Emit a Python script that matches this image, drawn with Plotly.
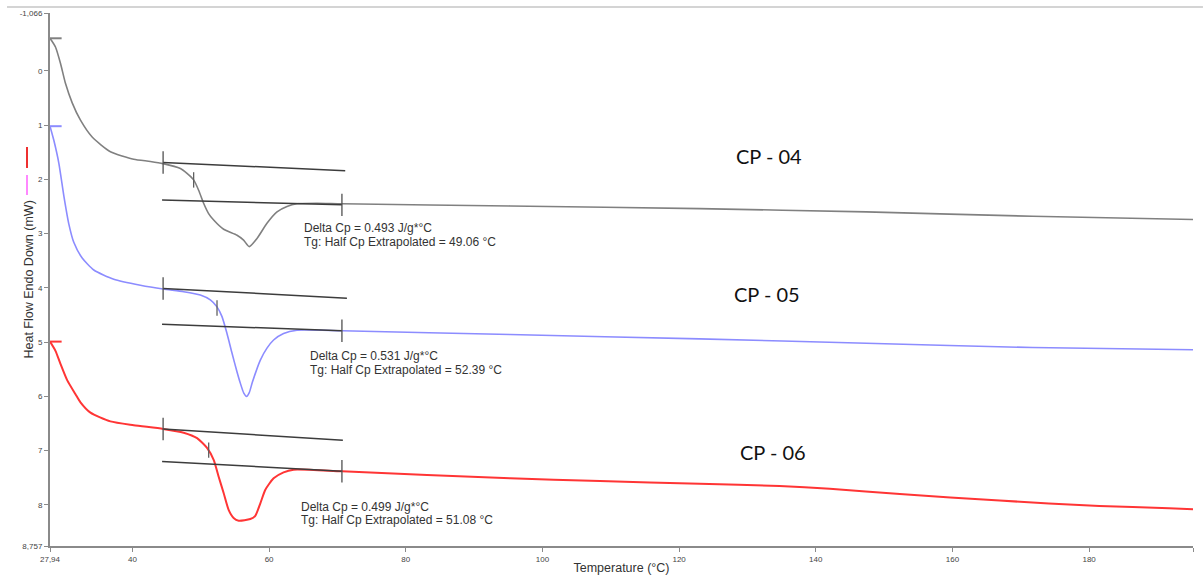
import plotly.graph_objects as go

# ---------------- data ----------------
temp_cp04 = [27.94, 28.74, 29.47, 30.2, 31.19, 32.4, 34.11, 36.78, 40.19, 42.63, 44.49, 47.02, 47.99,
             48.96, 49.69, 50.42, 51.15, 51.89, 53.35, 55.31, 56.27, 57.1, 58.23, 59.69, 61.16, 62.62,
             64.08, 67.0, 70.66, 95.27, 123.0, 147.4, 171.7, 195.2]
hf_cp04 = [-0.60, -0.44, -0.14, 0.23, 0.59, 0.91, 1.22, 1.49, 1.63, 1.67, 1.71, 1.80, 1.89,
           2.01, 2.20, 2.44, 2.63, 2.75, 2.92, 3.03, 3.12, 3.24, 3.09, 2.81, 2.60, 2.50,
           2.45, 2.44, 2.45, 2.49, 2.54, 2.60, 2.68, 2.74]

temp_cp05 = [27.94, 28.5, 29.23, 29.96, 30.69, 31.42, 32.65, 34.35, 37.27, 41.17, 44.49, 47.5,
             49.94, 51.4, 52.38, 53.11, 53.84, 54.57, 55.31, 55.8, 56.3, 56.7, 57.1, 57.55, 58.72, 59.69,
             60.66, 62.12, 64.08, 70.66, 95.27, 123.0, 147.4, 171.7, 195.2]
hf_cp05 = [1.02, 1.28, 1.70, 2.30, 2.82, 3.16, 3.45, 3.67, 3.84, 3.95, 4.02, 4.07,
           4.13, 4.22, 4.35, 4.53, 4.84, 5.20, 5.55, 5.76, 5.94, 6.00, 5.93, 5.74, 5.33, 5.11,
           4.96, 4.84, 4.78, 4.79, 4.86, 4.94, 5.02, 5.10, 5.14]

temp_cp06 = [27.94, 28.74, 29.47, 30.45, 31.67, 32.4, 33.86, 36.78, 40.19, 44.49, 47.5, 49.46, 50.92,
             51.89, 52.62, 53.35, 54.08, 54.81, 55.55, 57.25, 57.98, 58.72, 59.45, 60.66, 62.12,
             63.58, 70.66, 95.27, 108.4, 123.0, 134.7, 142.05, 152.3, 166.9, 181.5, 191.7, 195.2]
hf_cp06 = [4.99, 5.16, 5.40, 5.70, 5.96, 6.11, 6.30, 6.46, 6.53, 6.60, 6.67, 6.77, 6.95,
           7.17, 7.48, 7.78, 8.09, 8.24, 8.29, 8.26, 8.20, 7.97, 7.72, 7.51, 7.40,
           7.35, 7.38, 7.51, 7.56, 7.61, 7.65, 7.70, 7.80, 7.92, 8.02, 8.06, 8.08]

# tangent (baseline) lines: [x_start, x_end], [y_start, y_end]
upper_x = {"CP-04": [44.49, 71.14], "CP-05": [44.49, 71.39], "CP-06": [44.49, 70.8]}
upper_y = {"CP-04": [1.69, 1.84], "CP-05": [4.01, 4.19], "CP-06": [6.60, 6.81]}
lower_x = {"CP-04": [44.34, 70.66], "CP-05": [44.34, 70.66], "CP-06": [44.34, 70.66]}
lower_y = {"CP-04": [2.38, 2.47], "CP-05": [4.67, 4.79], "CP-06": [7.20, 7.38]}
onset_x = {"CP-04": 48.96, "CP-05": 52.38, "CP-06": 51.16}
onset_y = {"CP-04": 2.01, "CP-05": 4.37, "CP-06": 6.99}

delta_cp = {"CP-04": "0.493", "CP-05": "0.531", "CP-06": "0.499"}
tg_vals = {"CP-04": "49.06", "CP-05": "52.39", "CP-06": "51.08"}
text_x = {"CP-04": 64.85, "CP-05": 65.74, "CP-06": 64.31}
text_y1 = {"CP-04": 2.90, "CP-05": 5.25, "CP-06": 8.04}
text_y2 = {"CP-04": 3.15, "CP-05": 5.51, "CP-06": 8.28}
label_x = {"CP-04": 133.1, "CP-05": 132.9, "CP-06": 133.8}
label_y = {"CP-04": 1.57, "CP-05": 4.12, "CP-06": 7.02}

x_tickvals = [27.94, 40, 60, 80, 100, 120, 140, 160, 180, 195.2]
x_ticktext = ["27,94", "40", "60", "80", "100", "120", "140", "160", "180", "195,2"]
y_tickvals = [-1.066, 0, 1, 2, 3, 4, 5, 6, 7, 8, 8.757]
y_ticktext = ["-1,066", "0", "1", "2", "3", "4", "5", "6", "7", "8", "8,757"]

series = [
    ("CP-04", temp_cp04, hf_cp04, "#808080", 1.6),
    ("CP-05", temp_cp05, hf_cp05, "#8c8cff", 1.6),
    ("CP-06", temp_cp06, hf_cp06, "#ff3535", 2.0),
]

TANG = "#3c3c3c"
FONT = "Liberation Sans, Arial, sans-serif"

fig = go.Figure()

for name, t, v, col, w in series:
    fig.add_trace(go.Scatter(x=t, y=v, mode="lines", line=dict(color=col, width=w, shape="spline", smoothing=0.6),
                             cliponaxis=False, showlegend=False, hoverinfo="skip"))
    # short start marker
    fig.add_trace(go.Scatter(x=[t[0], t[0] + 1.7], y=[v[0], v[0]], mode="lines",
                             line=dict(color=col, width=2), cliponaxis=False, showlegend=False, hoverinfo="skip"))
    # tangents
    fig.add_trace(go.Scatter(x=upper_x[name], y=upper_y[name], mode="lines", line=dict(color=TANG, width=1.5),
                             showlegend=False, hoverinfo="skip"))
    fig.add_trace(go.Scatter(x=lower_x[name], y=lower_y[name], mode="lines", line=dict(color=TANG, width=1.5),
                             showlegend=False, hoverinfo="skip"))
    # vertical tick marks
    fig.add_trace(go.Scatter(x=[upper_x[name][0], lower_x[name][1]], y=[upper_y[name][0], lower_y[name][1]],
                             mode="markers", marker=dict(symbol="line-ns", size=16, line=dict(color="#505050", width=1.3)),
                             showlegend=False, hoverinfo="skip"))
    fig.add_trace(go.Scatter(x=[onset_x[name]], y=[onset_y[name]], mode="markers",
                             marker=dict(symbol="line-ns", size=11, line=dict(color="#606060", width=1.3)),
                             showlegend=False, hoverinfo="skip"))
    fig.add_annotation(x=text_x[name], y=text_y1[name], text=f"Delta Cp = {delta_cp[name]} J/g*°C",
                       showarrow=False, xanchor="left", yanchor="middle",
                       font=dict(family=FONT, size=12, color="#333333"))
    fig.add_annotation(x=text_x[name], y=text_y2[name], text=f"Tg: Half Cp Extrapolated = {tg_vals[name]} °C",
                       showarrow=False, xanchor="left", yanchor="middle",
                       font=dict(family=FONT, size=12, color="#333333"))
    fig.add_annotation(x=label_x[name], y=label_y[name], text=name.replace("-", " - "),
                       showarrow=False, xanchor="center", yanchor="middle",
                       font=dict(family="Lato, Open Sans, sans-serif", size=20, color="#111111"))

# y-axis title placed as rotated text
fig.add_annotation(xref="paper", yref="paper", x=-0.0192, y=0.5, text="Heat Flow Endo Down (mW)",
                   textangle=-90, showarrow=False, xanchor="center", yanchor="middle",
                   font=dict(family=FONT, size=12.5, color="#333333"))

# decorative: top rule and legend glyphs
fig.add_shape(type="line", xref="paper", yref="paper", x0=-0.0376, x1=1.0087, y0=1.0113, y1=1.0113,
              line=dict(color="#d4d4d4", width=2))
fig.add_shape(type="line", xref="paper", yref="paper", x0=-0.0201, x1=-0.0201, y0=0.7092, y1=0.7486,
              line=dict(color="#ee3030", width=2))
fig.add_shape(type="line", xref="paper", yref="paper", x0=-0.0201, x1=-0.0201, y0=0.6585, y1=0.6961,
              line=dict(color="#ff88ff", width=2))

axis_common = dict(showline=True, linecolor="#8a8a8a", linewidth=2, ticks="outside", ticklen=4,
                   tickcolor="#8a8a8a", tickwidth=1, showgrid=False, zeroline=False,
                   tickfont=dict(family=FONT, size=8, color="#444444"))

fig.update_layout(
    width=1203, height=575,
    margin=dict(l=50, r=10, t=13, b=29, autoexpand=False),
    paper_bgcolor="white", plot_bgcolor="white",
    xaxis=dict(range=[27.94, 195.2], tickmode="array", tickvals=x_tickvals, ticktext=x_ticktext,
               title=dict(text="Temperature (°C)", font=dict(family=FONT, size=12.5, color="#333333"), standoff=2),
               **axis_common),
    yaxis=dict(range=[8.757, -1.066], tickmode="array", tickvals=y_tickvals, ticktext=y_ticktext,
               **axis_common),
)

fig.write_html("out.html", config={"displayModeBar": False})
